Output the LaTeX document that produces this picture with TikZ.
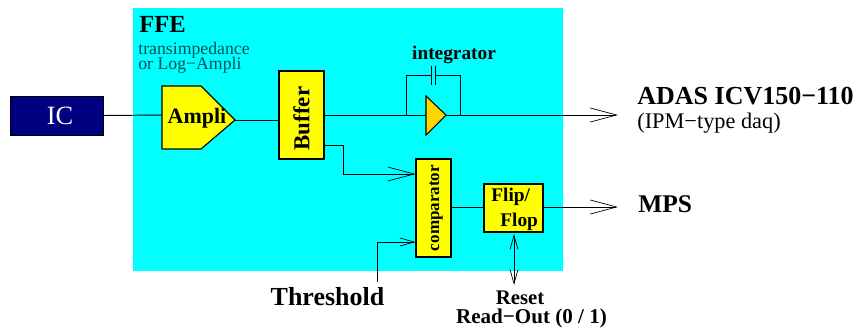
\documentclass[tikz,border=0pt]{standalone}
\usepackage{fontspec}
\setmainfont{Liberation Serif}
\usetikzlibrary{arrows.meta}
\definecolor{ffecyan}{RGB}{0,255,255}
\definecolor{blockyellow}{RGB}{255,255,0}
\definecolor{integyellow}{RGB}{255,215,0}
\definecolor{icblue}{RGB}{0,0,128}
\definecolor{noteteal}{RGB}{0,80,85}
\tikzset{
	block/.style={draw=black, fill=blockyellow, line width=0.65pt, inner sep=0pt, font=\bfseries},
	wire/.style={line width=0.55pt},
	bigarrow/.style={wire, -{Straight Barb[length=15pt, width=8pt, line width=0.4pt]}},
	smallarrow/.style={wire, -{Straight Barb[length=8pt, width=4.5pt, line width=0.4pt]}},
	bothsmall/.style={wire, {Straight Barb[length=8pt, width=4.5pt, line width=0.4pt]}-{Straight Barb[length=8pt, width=4.5pt, line width=0.4pt]}},
	boldlabel/.style={inner sep=0pt, font=\bfseries, anchor=west},
	note/.style={inner sep=0pt, anchor=west, font=\fontsize{10.1}{12}\selectfont, text=noteteal}
}
\begin{document}
\begin{tikzpicture}[x=0.02cm, y=-0.02cm]
	\useasboundingbox (0,0) rectangle (857,329);
	
	% FFE background
	\fill[ffecyan] (133,8) rectangle (563,271);
	\node[boldlabel, font=\bfseries\fontsize{14}{16}\selectfont] (ffe) at (139,24) {FFE};
	\node[note] (transimp) at (138,50) {transimpedance};
	\node[note] (logampli) at (138,65) {or Log−Ampli};
	
	% Blocks
	\node[draw=black, fill=icblue, text=white, inner sep=0pt, minimum width=1.86cm, minimum height=0.78cm,
		font=\fontsize{15}{17}\selectfont] (ic) at (56.5,115.5) {\hspace{4pt}IC};
	\coordinate (amplitip) at (235,120);
	\draw[block] (162,86) -- (201,86) -- (amplitip) -- (201,149) -- (162,149) -- cycle;
	\node[inner sep=0pt, font=\bfseries\fontsize{12.5}{14}\selectfont] (ampli) at (197,118) {Ampli};
	\node[block, minimum width=0.9cm, minimum height=1.76cm, font=\bfseries\fontsize{13}{15}\selectfont] (buffer) at (301.5,115) {\rotatebox{90}{Buffer\hspace{4pt}}};
	\coordinate (integtip) at (446,115);
	\draw[draw=black, fill=integyellow, line width=0.6pt] (426,96) -- (integtip) -- (426,135) -- cycle;
	\node[block, minimum width=0.7cm, minimum height=1.96cm, font=\bfseries\fontsize{9.7}{11}\selectfont] (comparator) at (433.5,208) {\hspace{3pt}\rotatebox{90}{comparator}};
	\node[block, minimum width=1.18cm, minimum height=0.96cm] (flipflop) at (513.5,208) {};
	\node[inner sep=0pt, anchor=west, font=\bfseries\fontsize{11}{13}\selectfont] (flip) at (491,197) {Flip/};
	\node[inner sep=0pt, anchor=west, font=\bfseries\fontsize{11}{13}\selectfont] (flop) at (500,222) {Flop};
	
	% Outside labels
	\node[boldlabel, font=\bfseries\fontsize{14.8}{17}\selectfont] (adas) at (637,96) {ADAS ICV150−110};
	\node[inner sep=0pt, anchor=west, font=\fontsize{12.7}{15}\selectfont] (ipm) at (637,123) {(IPM−type daq)};
	\node[boldlabel, font=\bfseries\fontsize{14.5}{17}\selectfont] (mps) at (638,204) {MPS};
	\node[inner sep=0pt, font=\bfseries\fontsize{14.8}{17}\selectfont] (threshold) at (327.5,297) {Threshold};
	\node[inner sep=0pt, font=\bfseries\fontsize{11.8}{14}\selectfont] (reset) at (520,298) {Reset};
	\node[inner sep=0pt, font=\bfseries\fontsize{12}{14}\selectfont] (readout) at (531.5,318) {Read−Out (0 / 1)};
	\node[inner sep=0pt, font=\bfseries\fontsize{11}{13}\selectfont] (integrator) at (454,55) {integrator};
	
	% Connections
	\coordinate (icin) at (162,115);
	\coordinate (adasend) at (618,115);
	\coordinate (mpsend) at (618,207);
	\coordinate (threshstart) at (377,282);
	\coordinate (resetend) at (514,285);
	\draw[wire] (ic.east) -- (icin);
	\draw[wire] (amplitip) -- (buffer.west |- amplitip);
	\draw[wire] (buffer.east) -- (426,115);
	\draw[bigarrow] (integtip) -- (adasend);
	\draw[bigarrow] (buffer.east |- 0,145) -- (343,145) -- (343,174) -- (comparator.west |- 0,174);
	\draw[smallarrow] (threshstart) -- (threshstart |- 0,242) -- (comparator.west |- 0,242);
	\draw[wire] (comparator.east |- 0,207) -- (flipflop.west |- 0,207);
	\draw[bigarrow] (flipflop.east |- 0,207) -- (mpsend);
	\draw[bothsmall] (resetend |- 0,234) -- (resetend);
	
	% Feedback capacitor
	\draw[wire] (406,115) -- (406,75) -- (431,75);
	\draw[wire] (435,75) -- (460,75) -- (460,115);
	\draw[wire] (431,66) -- (431,85);
	\draw[wire] (435,66) -- (435,85);
	
\end{tikzpicture}
\end{document}
